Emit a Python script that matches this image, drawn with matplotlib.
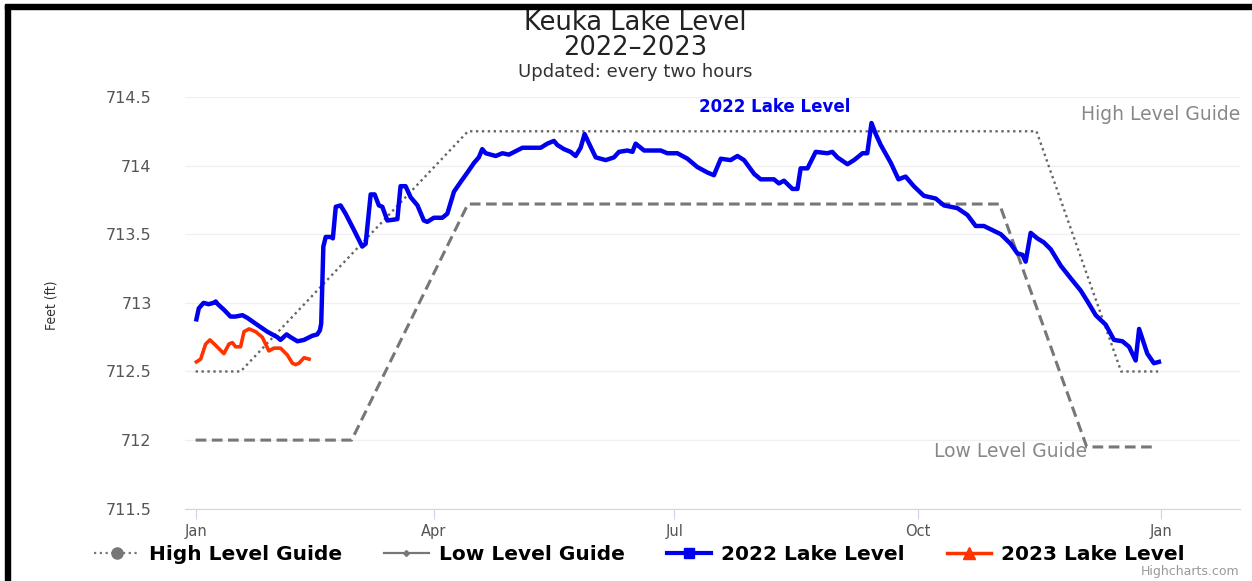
import matplotlib.pyplot as plt
from matplotlib.lines import Line2D
from matplotlib.patches import Rectangle

# x values are days since Jan 1, y values are feet
level_2022_day = [0.3, 1.2, 3.0, 4.9, 6.8, 7.6, 8.4, 10.7, 13.2, 15.1, 17.7, 19.6, 23.3, 27.1,
                  30.9, 32.1, 34.4, 35.9, 38.5, 41.0, 44.1, 46.0, 47.0, 47.5, 48.3, 49.2, 51.1,
                  51.9, 53.0, 54.8, 56.7, 59.9, 63.0, 64.3, 66.2, 67.7, 69.3, 70.6, 72.5, 76.3,
                  77.5, 79.4, 81.3, 83.9, 86.3, 87.6, 90.1, 93.3, 95.2, 97.7, 100.2, 102.8,
                  105.3, 107.1, 108.4, 109.7, 113.5, 116.0, 118.5, 123.6, 130.5, 133.0, 135.5,
                  136.8, 139.3, 141.8, 143.7, 145.6, 147.1, 148.8, 151.3, 155.1, 158.2, 160.1,
                  163.3, 165.2, 166.4, 169.6, 175.9, 178.4, 182.2, 186.0, 189.7, 193.5, 196.0,
                  198.6, 202.3, 204.9, 207.4, 211.2, 213.7, 218.7, 220.6, 222.5, 225.7, 227.6,
                  228.8, 231.4, 234.5, 238.9, 240.8, 242.7, 246.5, 249.0, 252.2, 254.0, 255.6,
                  257.2, 259.1, 262.9, 265.8, 268.5, 271.6, 275.4, 279.9, 283.0, 288.1, 291.9,
                  295.0, 298.1, 304.5, 308.2, 310.8, 312.7, 313.9, 315.8, 318.3, 320.8, 323.4,
                  327.2, 330.9, 334.7, 337.3, 340.4, 344.2, 347.3, 350.5, 353.0, 355.5, 356.8,
                  358.7, 359.9, 362.4, 364.3]
level_2022_ft = [712.88, 712.96, 713.00, 712.99, 713.00, 713.01, 712.99, 712.95, 712.90, 712.90,
                 712.91, 712.89, 712.84, 712.79, 712.75, 712.73, 712.77, 712.75, 712.72, 712.73,
                 712.76, 712.77, 712.80, 712.85, 713.41, 713.48, 713.48, 713.47, 713.70, 713.71,
                 713.65, 713.53, 713.41, 713.43, 713.79, 713.79, 713.71, 713.70, 713.60, 713.61,
                 713.85, 713.85, 713.77, 713.71, 713.60, 713.59, 713.62, 713.62, 713.65, 713.81,
                 713.88, 713.95, 714.02, 714.06, 714.12, 714.09, 714.07, 714.09, 714.08, 714.13,
                 714.13, 714.16, 714.18, 714.15, 714.12, 714.10, 714.07, 714.13, 714.23, 714.16,
                 714.06, 714.04, 714.06, 714.10, 714.11, 714.10, 714.16, 714.11, 714.11, 714.09,
                 714.09, 714.05, 713.99, 713.95, 713.93, 714.05, 714.04, 714.07, 714.04, 713.94,
                 713.90, 713.90, 713.87, 713.89, 713.83, 713.83, 713.98, 713.98, 714.10, 714.09,
                 714.10, 714.06, 714.01, 714.04, 714.09, 714.09, 714.31, 714.23, 714.15, 714.02,
                 713.90, 713.92, 713.85, 713.78, 713.76, 713.71, 713.69, 713.64, 713.56, 713.56,
                 713.50, 713.43, 713.36, 713.35, 713.30, 713.51, 713.47, 713.44, 713.39, 713.27,
                 713.18, 713.09, 713.01, 712.91, 712.84, 712.73, 712.72, 712.68, 712.58, 712.81,
                 712.70, 712.63, 712.56, 712.57]

level_2023_day = [0.3, 1.9, 3.8, 5.4, 7.6, 10.7, 12.6, 13.9, 15.1, 17.0, 18.3, 20.2, 22.7, 25.2,
                  27.7, 29.6, 32.1, 34.7, 36.6, 37.8, 39.1, 41.0, 42.9]
level_2023_ft = [712.57, 712.59, 712.70, 712.73, 712.69, 712.63, 712.70, 712.71, 712.68, 712.68,
                 712.79, 712.81, 712.79, 712.75, 712.65, 712.67, 712.67, 712.62, 712.56, 712.55,
                 712.56, 712.60, 712.59]

high_guide_day = [0, 17, 103, 318, 350, 364]
high_guide_ft = [712.5, 712.5, 714.25, 714.25, 712.5, 712.5]

low_guide_day = [0, 59, 103, 304, 337, 363]
low_guide_ft = [712.0, 712.0, 713.72, 713.72, 711.95, 711.95]

month_ticks = [0, 90, 181, 273, 365]
month_labels = ["Jan", "Apr", "Jul", "Oct", "Jan"]
y_ticks = [711.5, 712, 712.5, 713, 713.5, 714, 714.5]
y_labels = ["711.5", "712", "712.5", "713", "713.5", "714", "714.5"]

fig = plt.figure(figsize=(12.52, 5.81), dpi=100)
ax = fig.add_axes([0.1478, 0.1244, 0.8427, 0.7087])

ax.plot(high_guide_day, high_guide_ft, color="#666666", lw=1.7, linestyle=(0, (1, 1.5)))
ax.plot(low_guide_day, low_guide_ft, color="#777777", lw=2.2, linestyle=(0, (3.5, 1.8)))
ax.plot(level_2022_day, level_2022_ft, color="#0000ee", lw=3.2, solid_joinstyle="round")
ax.plot(level_2023_day, level_2023_ft, color="#ff3300", lw=2.6, solid_joinstyle="round")

# series labels sitting on the chart
ax.text(219, 714.43, "2022 Lake Level", color="#0000ee", fontsize=12, fontweight="bold",
        ha="center", va="center")
ax.text(395, 714.37, "High Level Guide", color="#888888", fontsize=13.5, ha="right", va="center")
ax.text(337, 711.92, "Low Level Guide", color="#888888", fontsize=13.5, ha="right", va="center")

ax.set_xlim(-4, 395)
ax.set_ylim(711.5, 714.5)
ax.set_xticks(month_ticks)
ax.set_xticklabels(month_labels, fontsize=10.5, color="#555555")
ax.set_yticks(y_ticks)
ax.set_yticklabels(y_labels, fontsize=11.5, color="#555555")
ax.tick_params(axis="x", length=7, color="#ccd6eb", pad=4)
ax.tick_params(axis="y", length=0, pad=24)
ax.grid(axis="y", color="#f0f0f0", lw=1)
for side in ["top", "right", "left"]:
    ax.spines[side].set_visible(False)
ax.spines["bottom"].set_color("#ccd6eb")
ax.set_axisbelow(True)

fig.text(0.507, 0.939, "Keuka Lake Level\n2022\u20132023", ha="center", va="center",
         fontsize=18.5, color="#222222", linespacing=0.95)
fig.text(0.507, 0.876, "Updated: every two hours", ha="center", va="center", fontsize=13,
         color="#333333")
fig.text(0.041, 0.475, "Feet (ft)", rotation=90, ha="center", va="center", fontsize=10,
         color="#333333", fontstretch="condensed")
fig.text(0.99, 0.005, "Highcharts.com", ha="right", va="bottom", fontsize=9, color="#999999")

handles = [
    Line2D([], [], color="#777777", lw=1.6, linestyle=(0, (1, 1.6)), marker="o", markersize=8),
    Line2D([], [], color="#777777", lw=1.6, marker="D", markersize=3),
    Line2D([], [], color="#0000ee", lw=3, marker="s", markersize=7),
    Line2D([], [], color="#ff3300", lw=2.5, marker="^", markersize=8),
]
labels = ["High Level Guide", "Low Level Guide", "2022 Lake Level", "2023 Lake Level"]
fig.legend(handles, labels, loc="center", bbox_to_anchor=(0.511, 0.046), ncol=4, frameon=False,
           prop={"size": 14.5, "weight": "bold"}, handlelength=2.2, columnspacing=2.1,
           handletextpad=0.5)

# black frame on left and top edge of the screenshot
fig.patches.append(Rectangle((0.004, 0), 0.004, 0.992, transform=fig.transFigure,
                             color="black", zorder=10))
fig.patches.append(Rectangle((0.004, 0.984), 0.996, 0.009, transform=fig.transFigure,
                             color="black", zorder=10))

fig.savefig("out.png", dpi=100)
